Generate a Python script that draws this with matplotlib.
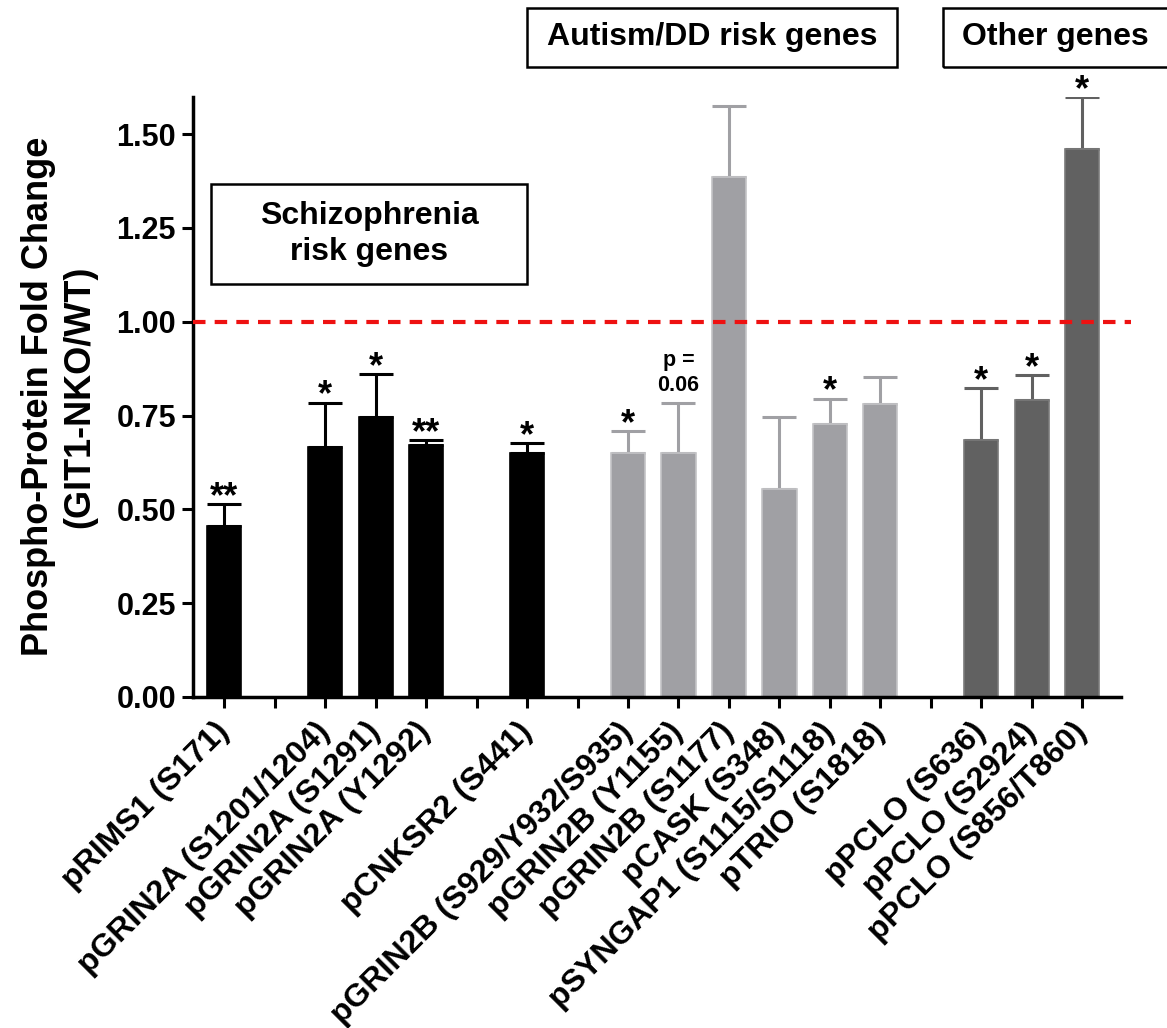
import numpy as np
import matplotlib.pyplot as plt
import matplotlib.transforms as mtransforms
from matplotlib.patches import Rectangle

plt.rcParams['font.family'] = ['Liberation Sans', 'DejaVu Sans']
plt.rcParams['font.weight'] = 'bold'

labels = ['pRIMS1 (S171)',
          'pGRIN2A (S1201/1204)', 'pGRIN2A (S1291)', 'pGRIN2A (Y1292)',
          'pCNKSR2 (S441)',
          'pGRIN2B (S929/Y932/S935)', 'pGRIN2B (Y1155)', 'pGRIN2B (S1177)',
          'pCASK (S348)', 'pSYNGAP1 (S1115/S1118)', 'pTRIO (S1818)',
          'pPCLO (S636)', 'pPCLO (S2924)', 'pPCLO (S856/T860)']
values = [0.456, 0.667, 0.747, 0.671, 0.651,
          0.650, 0.650, 1.387, 0.555, 0.728, 0.780,
          0.684, 0.792, 1.461]
errors = [0.058, 0.117, 0.114, 0.014, 0.025,
          0.059, 0.133, 0.188, 0.191, 0.067, 0.073,
          0.139, 0.066, 0.138]
marks = ['**', '*', '*', '**', '*',
         '*', 'p =\n0.06', '', '', '*', '',
         '*', '*', '*']
# bars per cluster, one empty slot between clusters
clusters = [1, 3, 1, 6, 3]
cluster_colors = ['#000000', '#000000', '#000000', '#a0a0a4', '#616161']

pos = []
cols = []
p = 0
for n, c in zip(clusters, cluster_colors):
    for i in range(n):
        pos.append(p)
        cols.append(c)
        p += 1
    p += 1
pos = np.array(pos)
nslots = pos[-1] + 1

fig = plt.figure(figsize=(11.67, 10.28), dpi=100)
ax = fig.add_axes([0.165, 0.322, 0.796, 0.584])

edge = ['#000000' if c == '#000000' else ('#c4c4c6' if c == '#a0a0a4' else '#7a7a7a') for c in cols]
ax.bar(pos, values, width=0.68, color=cols, edgecolor=edge, linewidth=1.2, zorder=2)
for x, v, e, c in zip(pos, values, errors, cols):
    ax.errorbar(x, v, yerr=[[0], [e]], fmt='none', ecolor=c, elinewidth=2.2,
                capsize=12.5, capthick=2.2, zorder=1)

for x, v, e, m in zip(pos, values, errors, marks):
    if not m:
        continue
    if m.startswith('p'):
        ax.annotate(m, (x, v + e), xytext=(0, 5), textcoords='offset points',
                    ha='center', va='bottom', fontsize=15.5, fontweight='bold',
                    linespacing=1.25, annotation_clip=False)
    else:
        ax.annotate(m, (x, v + e), xytext=(0, -2), textcoords='offset points',
                    ha='center', va='baseline', fontsize=26, fontweight='bold',
                    annotation_clip=False)

ax.axhline(1.0, color='#ee1111', linestyle=(0, (3, 2.2)), linewidth=3, zorder=3,
           xmax=1.01, clip_on=False)

ax.set_xlim(-0.63, nslots - 0.22)
ax.set_ylim(0, 1.6)
ax.set_yticks([0, 0.25, 0.5, 0.75, 1.0, 1.25, 1.5])
ax.set_yticklabels(['%.2f' % t for t in ax.get_yticks()], fontsize=22, fontweight='bold')
tick_labels = [''] * nslots
for x, l in zip(pos, labels):
    tick_labels[x] = l
ax.set_xticks(np.arange(nslots))
ax.set_xticklabels(tick_labels, rotation=45, ha='right', va='center',
                   rotation_mode='anchor', fontsize=23, fontweight='bold')
shift = mtransforms.ScaledTranslation(0.07, 0, fig.dpi_scale_trans)
for t in ax.get_xticklabels():
    t.set_transform(t.get_transform() + shift)
ax.tick_params(axis='both', width=2.2, length=8, direction='out')
ax.tick_params(axis='x', pad=14)
ax.tick_params(axis='y', pad=4)
for s in ['top', 'right']:
    ax.spines[s].set_visible(False)
for s in ['left', 'bottom']:
    ax.spines[s].set_linewidth(2.5)

ax.set_ylabel('Phospho-Protein Fold Change\n(GIT1-NKO/WT)', fontsize=26,
              fontweight='bold', linespacing=1.2, labelpad=14)

W, H = 1167, 1028
def box(x0, y0, x1, y1, text, tx, fs):
    fig.add_artist(Rectangle((x0 / W, 1 - y1 / H), (x1 - x0) / W, (y1 - y0) / H,
                             transform=fig.transFigure, fill=False,
                             edgecolor='black', linewidth=1.8, clip_on=False))
    fig.text(tx / W, 1 - (y0 + y1) / 2 / H, text, ha='center', va='center',
             fontsize=fs, fontweight='bold', linespacing=1.3)

box(211, 184, 527, 284, 'Schizophrenia\nrisk genes', 369, 23)
box(527, 8, 897, 67, 'Autism/DD risk genes', 712, 23)
box(943, 8, 1180, 67, 'Other genes', 1055, 23)

fig.savefig('out.png', dpi=100)
